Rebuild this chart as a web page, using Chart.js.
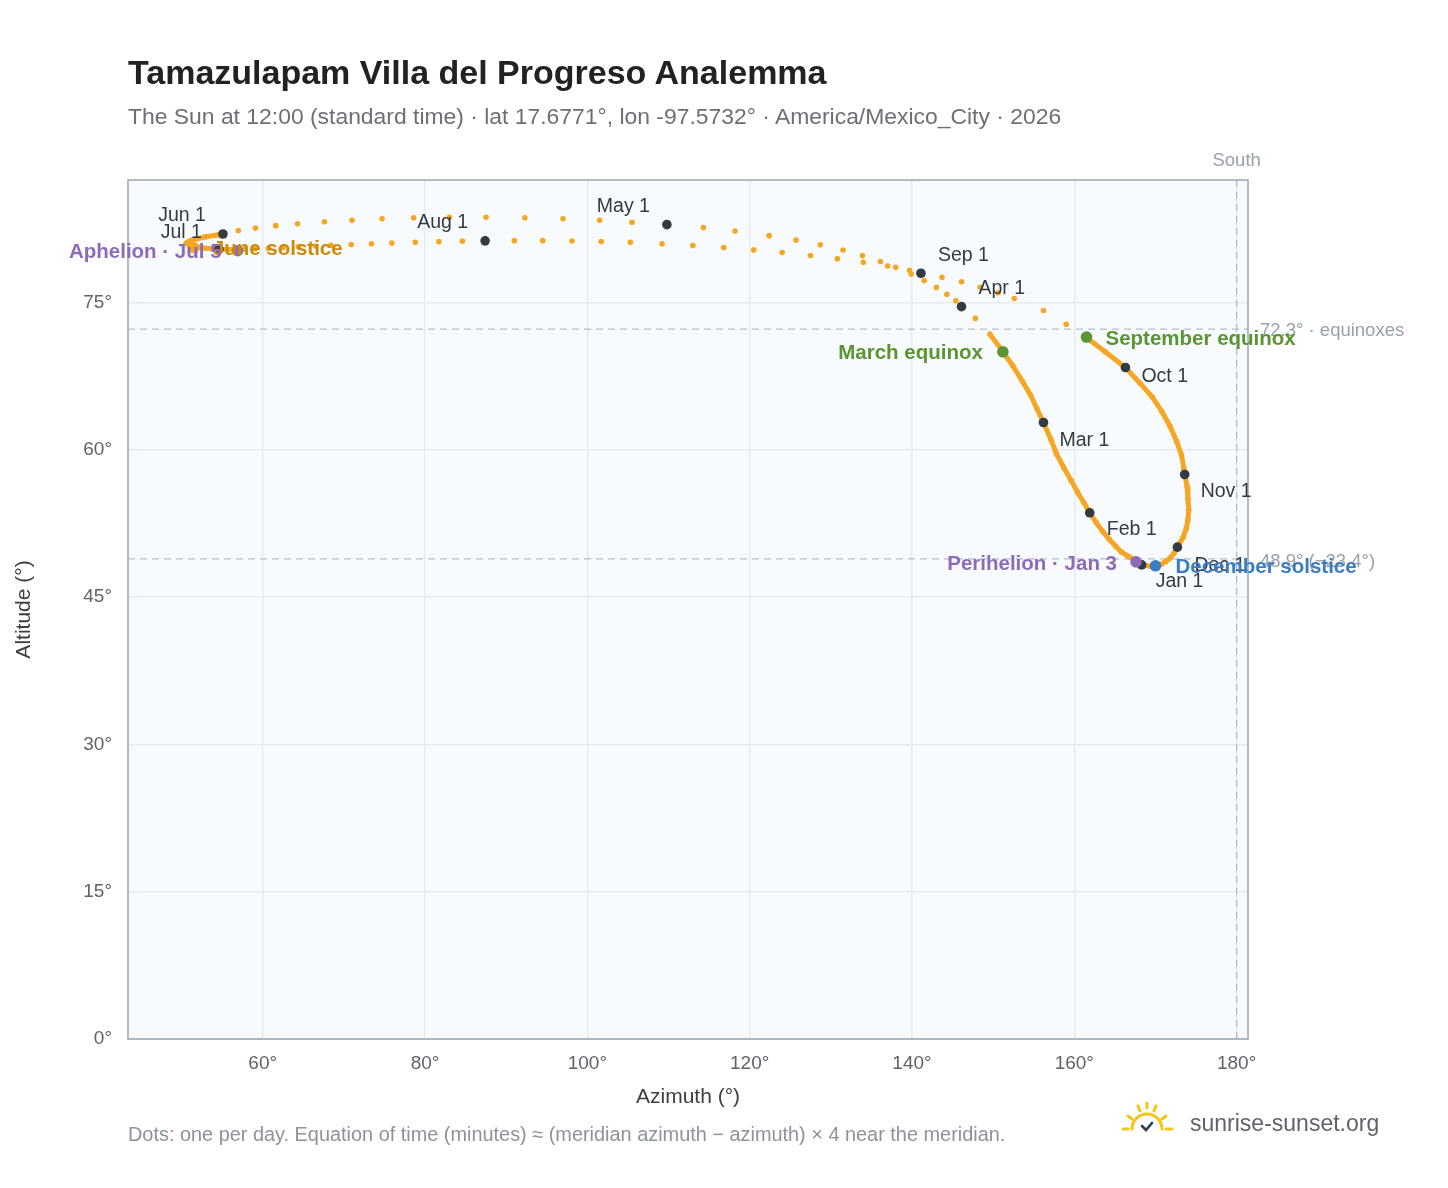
<!DOCTYPE html>
<html>
<head>
<meta charset="utf-8">
<script src="https://cdn.jsdelivr.net/npm/chart.js@4.4.1/dist/chart.umd.min.js"></script>
<style>
  html, body { margin: 0; padding: 0; background: #fff; }
  body { width: 1448px; height: 1188px; position: relative; overflow: hidden;
         font-family: "Liberation Sans", Arial, sans-serif; }
  #wrap { position: absolute; left: 0; top: 0; width: 1448px; height: 1188px; }
  .title { position: absolute; left: 128px; top: 53px; font-size: 34px; font-weight: bold; color: #222; }
  .sub { position: absolute; left: 128px; top: 103px; font-size: 22.9px; color: #6b6f76; }
  .foot { position: absolute; left: 128px; top: 1123px; font-size: 19.9px; color: #8d939b; }
  .brand { position: absolute; left: 1190px; top: 1110px; font-size: 23px; color: #5f636b; }
  .logo { position: absolute; left: 1120px; top: 1102px; }
</style>
</head>
<body>
<div id="wrap"><canvas id="c" width="1448" height="1188"></canvas></div>
<div class="title">Tamazulapam Villa del Progreso Analemma</div>
<div class="sub">The Sun at 12:00 (standard time) · lat 17.6771°, lon -97.5732° · America/Mexico_City · 2026</div>
<div class="foot">Dots: one per day. Equation of time (minutes) ≈ (meridian azimuth − azimuth) × 4 near the meridian.</div>
<svg class="logo" width="56" height="34" viewBox="0 0 56 34">
  <g stroke="#f5c518" stroke-width="3" stroke-linecap="round" fill="none">
    <path d="M12 27 A15 15 0 0 1 42 27"/>
    <line x1="3" y1="27" x2="8" y2="27"/><line x1="46" y1="27" x2="52" y2="27"/>
    <line x1="8" y1="14" x2="12" y2="17"/><line x1="46" y1="14" x2="42" y2="17"/>
    <line x1="18" y1="4" x2="20" y2="9"/><line x1="36" y1="4" x2="34" y2="9"/>
    <line x1="27" y1="1" x2="27" y2="6"/>
  </g>
  <path d="M22 24 L26 28 L32 21" stroke="#2c3e50" stroke-width="2.6" fill="none" stroke-linecap="round"/>
</svg>
<div class="brand">sunrise-sunset.org</div>
<script>
  // Sun position at 12:00 local standard time (every few days)
  const DAYS = ['Jan 1','Jan 5','Jan 9','Jan 13','Jan 17','Jan 21','Jan 25','Jan 29','Feb 1','Feb 5','Feb 9','Feb 13','Feb 17','Feb 21','Feb 25',
    'Mar 1','Mar 5','Mar 9','Mar 13','Mar 17','Mar 20','Mar 24','Mar 28','Apr 1','Apr 3','Apr 5','Apr 7','Apr 9','Apr 11','Apr 13','Apr 15','Apr 17',
    'Apr 19','Apr 21','Apr 23','Apr 25','Apr 27','Apr 29','May 1','May 3','May 5','May 7','May 9','May 11','May 13','May 15','May 17','May 19',
    'May 21','May 23','May 25','May 27','May 29','Jun 1','Jun 2','Jun 4','Jun 6','Jun 8','Jun 10','Jun 12','Jun 14','Jun 16','Jun 18','Jun 20',
    'Jun 22','Jun 24','Jun 26','Jun 28','Jul 1','Jul 4','Jul 6','Jul 8','Jul 10','Jul 12','Jul 14','Jul 16','Jul 18','Jul 20','Jul 22','Jul 24',
    'Jul 26','Jul 28','Jul 30','Aug 1','Aug 3','Aug 5','Aug 7','Aug 9','Aug 11','Aug 13','Aug 15','Aug 17','Aug 19','Aug 21','Aug 23','Aug 25',
    'Aug 27','Aug 29','Aug 31','Sep 1','Sep 3','Sep 5','Sep 7','Sep 9','Sep 11','Sep 15','Sep 19','Sep 22','Sep 26','Oct 1','Oct 5','Oct 9',
    'Oct 13','Oct 17','Oct 21','Oct 25','Oct 29','Nov 1','Nov 5','Nov 9','Nov 13','Nov 17','Nov 21','Nov 25','Dec 1','Dec 5','Dec 9','Dec 13',
    'Dec 17','Dec 21','Dec 25','Dec 29'];
  const AZIMUTH = [168.3,167.5,166.7,165.8,165.1,164.3,163.5,162.7,161.9,161.2,160.4,159.6,158.7,157.8,157.1,
    156.2,155.4,154.6,153.6,152.4,151.2,149.6,147.8,146.1,145.4,144.3,143.0,141.5,139.9,138.0,136.1,133.9,
    131.5,128.7,125.7,122.4,118.2,114.3,109.8,105.5,101.5,97.0,92.3,87.5,83.0,78.6,74.7,71.0,
    67.6,64.3,61.6,59.1,57.0,55.1,54.4,53.0,51.9,51.2,50.8,50.6,50.7,51.0,51.3,51.6,
    52.0,52.4,53.0,53.8,54.6,56.5,57.8,59.1,60.7,62.5,64.4,66.5,68.4,70.9,73.4,75.9,
    78.8,81.7,84.6,87.4,91.0,94.5,98.1,101.7,105.3,109.2,113.0,116.8,120.5,124.0,127.5,130.8,
    134.0,137.0,139.7,141.1,143.7,146.1,148.4,150.6,152.6,156.2,159.0,161.4,163.8,166.3,168.1,169.6,
    170.8,171.8,172.6,173.2,173.5,173.6,173.9,174.0,174.1,174.0,173.8,173.4,172.7,172.3,171.8,171.3,
    170.7,170.0,169.4,168.7];
  const ALTITUDE = [48.3,48.75,49.15,49.6,50.2,50.9,51.7,52.6,53.6,54.6,55.7,56.9,58.2,59.6,61.1,
    62.8,64.2,65.6,67.0,68.6,70.0,71.8,73.4,74.6,75.2,75.86,76.56,77.25,77.93,78.6,79.2,79.8,
    80.37,80.91,81.39,81.83,82.3,82.65,82.95,83.2,83.4,83.55,83.65,83.7,83.7,83.65,83.55,83.4,
    83.25,83.05,82.85,82.6,82.35,82.0,81.9,81.72,81.51,81.36,81.19,81.06,80.97,80.89,80.8,80.72,
    80.66,80.6,80.55,80.52,80.45,80.42,80.46,80.5,80.55,80.62,80.69,80.78,80.85,80.93,81.01,81.08,
    81.15,81.22,81.27,81.3,81.32,81.32,81.28,81.24,81.16,81.0,80.82,80.63,80.38,80.11,79.81,79.49,
    79.11,78.74,78.3,78.0,77.6,77.13,76.58,76.02,75.43,74.2,72.8,71.5,70.0,68.4,66.8,65.4,
    63.9,62.4,60.9,59.5,58.1,57.5,56.3,55.0,53.9,52.9,52.0,51.1,50.1,49.5,49.0,48.65,
    48.35,48.2,48.15,48.25];

  const MONTHS = ['Jan 1','Feb 1','Mar 1','Apr 1','May 1','Jun 1','Jul 1','Aug 1','Sep 1','Oct 1','Nov 1','Dec 1'];

  const EVENTS = ['March equinox','September equinox','December solstice','June solstice','Perihelion · Jan 3','Aphelion · Jul 5'];
  const EVENT_AZ = [151.2, 161.5, 170.0, 51.5, 167.6, 56.9];
  const EVENT_ALT = [70.0, 71.5, 48.2, 80.6, 48.6, 80.3];

  const EQUINOX_ALT = 72.3;
  const DEC_SOLSTICE_ALT = 48.9;
  const MERIDIAN_AZ = 180;

  const X_TICKS = [60, 80, 100, 120, 140, 160, 180];
  const Y_TICKS = [0, 15, 30, 45, 60, 75];

  // label styles: [dx, dy, align]
  const MONTH_LABEL_POS = {
    'Jan 1': [14, 17, 'left'], 'Feb 1': [17, 17, 'left'], 'Mar 1': [16, 18, 'left'], 'Apr 1': [17, -18, 'left'],
    'May 1': [-17, -18, 'right'], 'Jun 1': [-17, -18, 'right'], 'Jul 1': [-17, -17, 'right'], 'Aug 1': [-17, -18, 'right'],
    'Sep 1': [17, -18, 'left'], 'Oct 1': [16, 9, 'left'], 'Nov 1': [16, 17, 'left'], 'Dec 1': [17, 18, 'left'],
  };
  const EVENT_STYLE = {
    'March equinox': { color: '#5b9531', text: '#5b9531', dx: -20, align: 'right' },
    'September equinox': { color: '#5b9531', text: '#5b9531', dx: 19, align: 'left' },
    'December solstice': { color: '#3b7dc4', text: '#3b7dc4', dx: 20, align: 'left' },
    'June solstice': { color: '#f5a623', text: '#cc8a0c', dx: 19, align: 'left' },
    'Perihelion · Jan 3': { color: '#8e6bb8', text: '#8e6bb8', dx: -19, align: 'right' },
    'Aphelion · Jul 5': { color: '#8e6bb8', text: '#8e6bb8', dx: -16, align: 'right' },
  };

  const ORANGE = '#f5a623';
  const FONT = '"Liberation Sans", Arial, sans-serif';

  const dayPoints = AZIMUTH.map((x, i) => ({ x, y: ALTITUDE[i], day: DAYS[i] }));
  const monthPoints = MONTHS.map(m => {
    const i = DAYS.indexOf(m);
    return { x: AZIMUTH[i], y: ALTITUDE[i], label: m };
  });
  const eventPoints = EVENTS.map((e, i) => ({ x: EVENT_AZ[i], y: EVENT_ALT[i], label: e }));

  // solid where days overlap densely (low part of the loop and the June turn)
  function dense(p0, p1) {
    return (p0.parsed.y < 72 && p1.parsed.y < 72) || (p0.parsed.x < 57 && p1.parsed.x < 57);
  }

  const overlay = {
    id: 'overlay',
    beforeDraw(chart) {
      const { ctx, chartArea: a } = chart;
      ctx.save();
      ctx.fillStyle = '#f8fbfe';
      ctx.fillRect(a.left, a.top, a.right - a.left, a.bottom - a.top);
      ctx.restore();
    },
    beforeDatasetsDraw(chart) {
      const { ctx, chartArea: a, scales: { x, y } } = chart;
      ctx.save();
      ctx.strokeStyle = '#b4bec9';
      ctx.lineWidth = 1.3;
      ctx.setLineDash([7, 5]);
      [EQUINOX_ALT, DEC_SOLSTICE_ALT].forEach(v => {
        const py = y.getPixelForValue(v);
        ctx.beginPath(); ctx.moveTo(a.left, py); ctx.lineTo(a.right, py); ctx.stroke();
      });
      const px = x.getPixelForValue(MERIDIAN_AZ);
      ctx.beginPath(); ctx.moveTo(px, a.top); ctx.lineTo(px, a.bottom); ctx.stroke();
      ctx.setLineDash([]);
      ctx.fillStyle = '#98a1ab';
      ctx.font = '18.5px ' + FONT;
      ctx.textBaseline = 'middle';
      ctx.textAlign = 'left';
      ctx.fillText(EQUINOX_ALT.toFixed(1) + '° · equinoxes', a.right + 12, y.getPixelForValue(EQUINOX_ALT) + 2);
      ctx.fillText(DEC_SOLSTICE_ALT.toFixed(1) + '° (−23.4°)', a.right + 12, y.getPixelForValue(DEC_SOLSTICE_ALT) + 3);
      ctx.textAlign = 'center';
      ctx.fillText('South', px, a.top - 19);
      ctx.restore();
    },
    afterDatasetsDraw(chart) {
      const { ctx, chartArea: a, scales: { x, y } } = chart;
      ctx.save();
      ctx.strokeStyle = '#9aa6b2';
      ctx.lineWidth = 1.5;
      ctx.strokeRect(a.left, a.top, a.right - a.left, a.bottom - a.top);
      ctx.textBaseline = 'middle';
      ctx.font = '19.5px ' + FONT;
      ctx.fillStyle = '#343a40';
      monthPoints.forEach(p => {
        const [dx, dy, al] = MONTH_LABEL_POS[p.label];
        ctx.textAlign = al;
        ctx.fillText(p.label, x.getPixelForValue(p.x) + dx, y.getPixelForValue(p.y) + dy);
      });
      ctx.font = 'bold 20.5px ' + FONT;
      eventPoints.forEach(p => {
        const s = EVENT_STYLE[p.label];
        ctx.textAlign = s.align;
        ctx.fillStyle = s.text;
        ctx.fillText(p.label, x.getPixelForValue(p.x) + s.dx, y.getPixelForValue(p.y) + 2);
      });
      ctx.restore();
    },
  };

  new Chart(document.getElementById('c'), {
    type: 'scatter',
    data: {
      datasets: [
        {
          label: 'Days',
          data: dayPoints,
          showLine: true,
          borderWidth: 5,
          borderColor: ORANGE,
          segment: { borderColor: ctx => dense(ctx.p0, ctx.p1) ? ORANGE : 'transparent' },
          backgroundColor: ORANGE,
          pointRadius: 2.8,
          pointBorderWidth: 0,
          order: 3,
        },
        {
          label: 'Months',
          data: monthPoints,
          backgroundColor: '#343a40',
          pointRadius: 4.8,
          pointBorderWidth: 0,
          order: 2,
        },
        {
          label: 'Events',
          data: eventPoints,
          backgroundColor: eventPoints.map(p => EVENT_STYLE[p.label].color),
          pointRadius: 5.8,
          pointBorderWidth: 0,
          order: 1,
        },
      ],
    },
    options: {
      responsive: false,
      animation: false,
      layout: { padding: { top: 180, right: 200, left: 12, bottom: 78 } },
      plugins: { legend: { display: false }, tooltip: { enabled: false } },
      scales: {
        x: {
          type: 'linear',
          min: 43.4, max: 181.4,
          afterBuildTicks: s => { s.ticks = X_TICKS.map(v => ({ value: v })); },
          afterFit: s => { s.height = 71; },
          ticks: { color: '#5f636b', font: { size: 19, family: FONT }, padding: 13, callback: v => v + '°' },
          grid: { color: '#e6ebf0', lineWidth: 1.5, drawTicks: false },
          border: { display: false },
          title: { display: true, text: 'Azimuth (°)', color: '#3a3f45', font: { size: 21, family: FONT }, padding: { top: 8, bottom: 0 } },
        },
        y: {
          type: 'linear',
          min: 0, max: 87.5,
          afterBuildTicks: s => { s.ticks = Y_TICKS.map(v => ({ value: v })); },
          afterFit: s => { s.width = 116; },
          ticks: { color: '#5f636b', font: { size: 19, family: FONT }, padding: 16, callback: v => v + '°' },
          grid: { color: '#e6ebf0', lineWidth: 1.5, drawTicks: false },
          border: { display: false },
          title: { display: true, text: 'Altitude (°)', color: '#3a3f45', font: { size: 21, family: FONT }, padding: { top: 0, bottom: 0 } },
        },
      },
    },
    plugins: [overlay],
  });
</script>
</body>
</html>
